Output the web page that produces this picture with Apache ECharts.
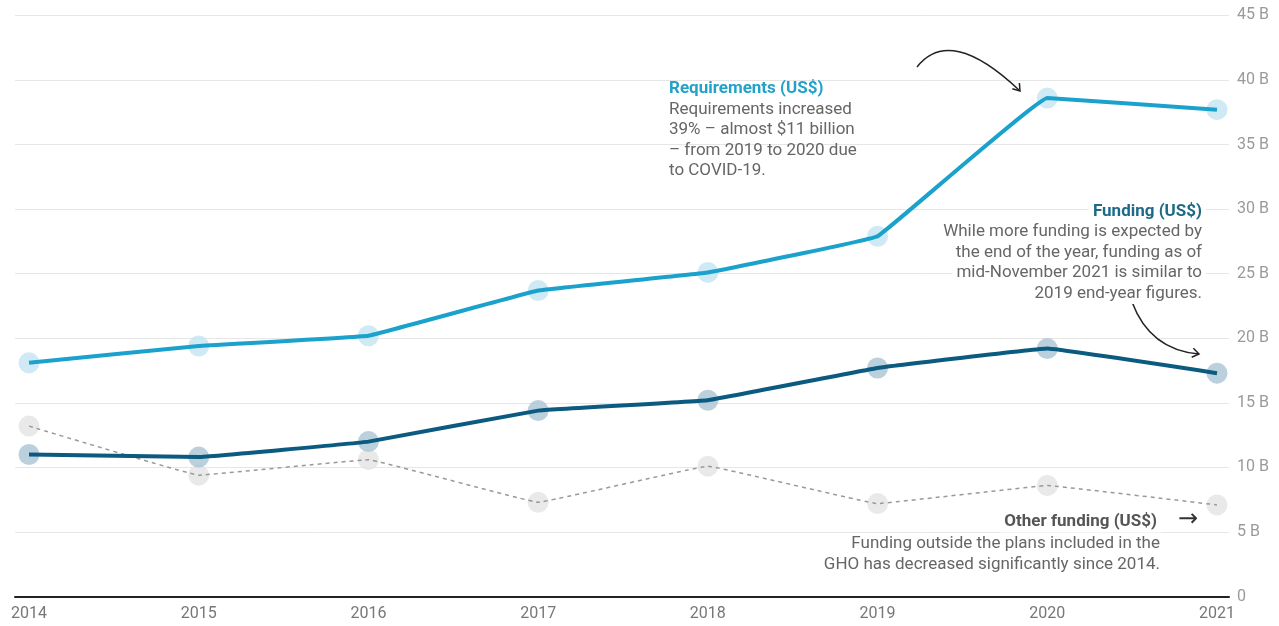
<!DOCTYPE html>
<html>
<head>
<meta charset="utf-8">
<script src="https://cdn.jsdelivr.net/npm/echarts@6/dist/echarts.min.js"></script>
<style>
html,body{margin:0;padding:0;background:#fff;}
#chart{width:1279px;height:626px;}
</style>
</head>
<body>
<div id="chart"></div>
<script>
const years = [2014, 2015, 2016, 2017, 2018, 2019, 2020, 2021];
const requirements = [18.1, 19.4, 20.2, 23.7, 25.1, 27.9, 38.6, 37.7];
const funding = [11.0, 10.8, 12.0, 14.4, 15.2, 17.7, 19.2, 17.3];
const otherFunding = [13.2, 9.4, 10.6, 7.3, 10.1, 7.2, 8.6, 7.1];
const yMax = 45;
const yStep = 5;

const FONT = 'Roboto, "Noto Sans", "DejaVu Sans", sans-serif';
const pair = arr => arr.map((v, i) => [years[i], v]);

const chart = echarts.init(document.getElementById('chart'), null, {renderer: 'canvas'});

function arrowHead(tipX, tipY, fromX, fromY, len, ang) {
  const a = Math.atan2(tipY - fromY, tipX - fromX);
  const p1 = [tipX - len * Math.cos(a - ang), tipY - len * Math.sin(a - ang)];
  const p2 = [tipX - len * Math.cos(a + ang), tipY - len * Math.sin(a + ang)];
  return {
    type: 'polyline',
    shape: {points: [p1, [tipX, tipY], p2]},
    style: {stroke: '#222', lineWidth: 1.5, fill: null},
    z: 10
  };
}

function textLine(x, y, text, opts) {
  return {
    type: 'text',
    x: x, y: y, z: 20,
    style: Object.assign({
      text: text,
      font: '17px ' + FONT,
      fill: '#666',
      textAlign: 'left',
      textVerticalAlign: 'middle'
    }, opts || {})
  };
}

const bg = {backgroundColor: '#fff', padding: [2, 4]};
const B = 'bold 17px ' + FONT;

const graphics = [
  // Requirements annotation
  textLine(669, 89, 'Requirements (US$)', {font: B, fill: '#22a2c9'}),
  textLine(669, 109.5, 'Requirements increased'),
  textLine(669, 130, '39% – almost $11 billion'),
  textLine(669, 150.5, '– from 2019 to 2020 due'),
  textLine(669, 171, 'to COVID-19.'),
  // Funding annotation
  textLine(1206, 212, 'Funding (US$)', Object.assign({font: B, fill: '#1d6a88', textAlign: 'right'}, bg)),
  textLine(1206, 232, 'While more funding is expected by', Object.assign({textAlign: 'right'}, bg)),
  textLine(1206, 252.5, 'the end of the year, funding as of', Object.assign({textAlign: 'right'}, bg)),
  textLine(1206, 273, 'mid-November 2021 is similar to', Object.assign({textAlign: 'right'}, bg)),
  textLine(1206, 293.5, '2019 end-year figures.', Object.assign({textAlign: 'right'}, bg)),
  // Other funding annotation
  textLine(1161, 522, 'Other funding (US$)', Object.assign({font: B, fill: '#555', textAlign: 'right'}, bg)),
  textLine(1188, 520, '→', {font: '24px "DejaVu Sans", ' + FONT, fill: '#333', textAlign: 'center'}),
  textLine(1164, 544, 'Funding outside the plans included in the', Object.assign({textAlign: 'right'}, bg)),
  textLine(1164, 564.5, 'GHO has decreased significantly since 2014.', Object.assign({textAlign: 'right'}, bg)),
  // Requirements arrow
  {
    type: 'bezierCurve', z: 10,
    shape: {x1: 917, y1: 67, x2: 1019, y2: 90, cpx1: 950, cpy1: 25},
    style: {stroke: '#222', lineWidth: 1.5, fill: null}
  },
  arrowHead(1020, 91, 1000, 66, 8, 0.6),
  // Funding arrow
  {
    type: 'bezierCurve', z: 10,
    shape: {x1: 1132, y1: 302, x2: 1199, y2: 354, cpx1: 1150, cpy1: 350},
    style: {stroke: '#222', lineWidth: 1.5, fill: null}
  },
  arrowHead(1199, 354, 1178, 350, 8, 0.6)
];

const option = {
  backgroundColor: '#fff',
  animation: false,
  grid: {left: 15, right: 50, top: 15.4, bottom: 29.4},
  xAxis: {
    type: 'value',
    min: 2014 - 14 / 169.71,
    max: 2021 + 12 / 169.71,
    axisLine: {show: true, lineStyle: {color: '#222', width: 2}},
    axisTick: {show: false},
    splitLine: {show: false},
    axisLabel: {
      customValues: years,
      formatter: v => String(Math.round(v)),
      color: '#777',
      fontSize: 16,
      fontFamily: FONT,
      margin: 9
    }
  },
  yAxis: {
    type: 'value',
    position: 'right',
    min: 0,
    max: yMax,
    interval: yStep,
    axisLine: {show: false},
    axisTick: {show: false},
    splitLine: {show: true, lineStyle: {color: '#e6e6e6', width: 1}},
    axisLabel: {
      formatter: v => v === 0 ? '0' : v + ' B',
      color: '#9a9a9a',
      fontSize: 16,
      fontFamily: FONT,
      margin: 8
    }
  },
  series: [
    {
      type: 'scatter', data: pair(otherFunding), symbolSize: 21, z: 1,
      itemStyle: {color: '#e3e3e3'}, silent: true
    },
    {
      type: 'scatter', data: pair(requirements), symbolSize: 21, z: 1,
      itemStyle: {color: '#c4e5f2'}, silent: true
    },
    {
      type: 'scatter', data: pair(funding), symbolSize: 21, z: 1,
      itemStyle: {color: '#a9c4d4'}, silent: true
    },
    {
      type: 'line', data: pair(otherFunding), showSymbol: false, z: 3,
      smooth: 0.04,
      lineStyle: {color: '#999', width: 1.5, type: [4, 4]}
    },
    {
      type: 'line', data: pair(requirements), showSymbol: false, z: 3,
      smooth: 0.05,
      lineStyle: {color: '#1ba2cc', width: 4}
    },
    {
      type: 'line', data: pair(funding), showSymbol: false, z: 3,
      smooth: 0.05,
      lineStyle: {color: '#0b5a80', width: 4}
    }
  ],
  graphic: graphics
};

chart.setOption(option);
</script>
</body>
</html>
